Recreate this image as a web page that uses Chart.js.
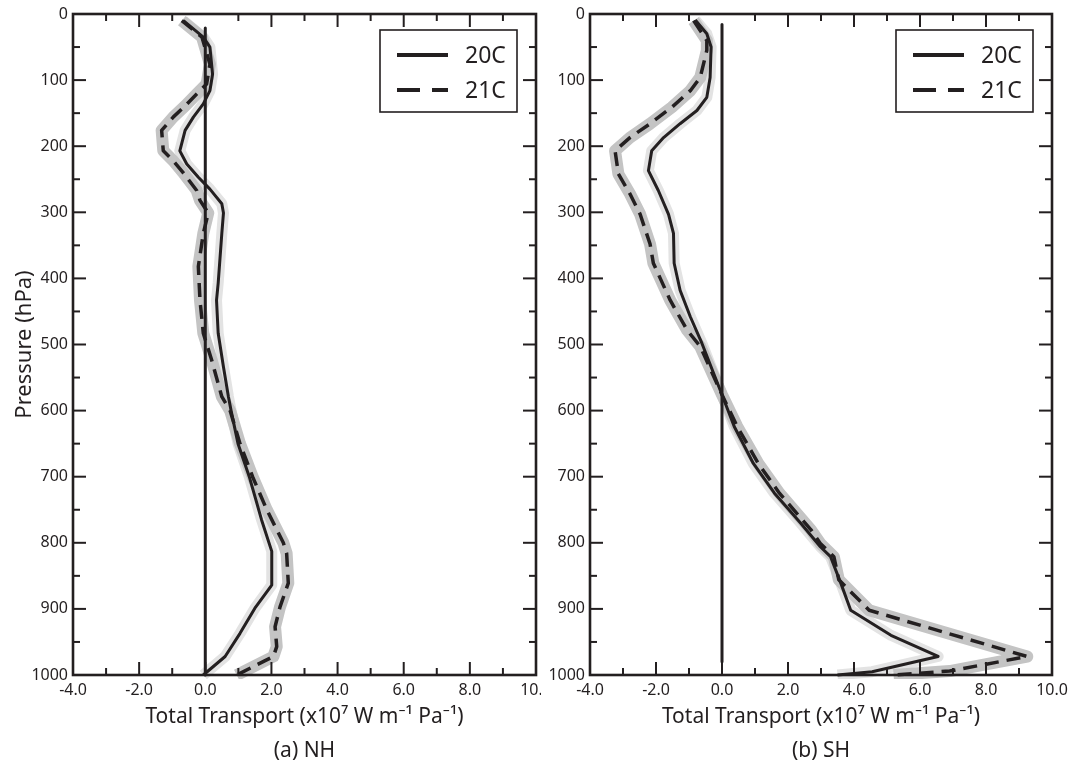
<!DOCTYPE html>
<html><head><meta charset="utf-8">
<script src="https://cdn.jsdelivr.net/npm/chart.js@4/dist/chart.umd.min.js"></script>
<style>
html,body{margin:0;padding:0;background:#fff;}
#wrap{position:relative;width:1069px;height:768px;overflow:hidden;background:#fff;}
.pane{position:absolute;top:0;height:768px;}
#pa{left:0;width:541px;}
#pb{left:545px;width:524px;}
</style></head><body>
<div id="wrap">
  <div class="pane" id="pa"><canvas id="ca" width="541" height="768"></canvas></div>
  <div class="pane" id="pb"><canvas id="cb" width="524" height="768"></canvas></div>
</div>
<script>
// ---------- data ----------
const seriesNames = ['20C', '21C'];
const xTitle = 'Total Transport (x10\u2077 W m\u207B\u00B9 Pa\u207B\u00B9)';
const yTitle = 'Pressure (hPa)';
const panelLabels = ['(a) NH', '(b) SH'];

const xMajor = [-4, -2, 0, 2, 4, 6, 8, 10];
const xTickLabels = ['-4.0', '-2.0', '0.0', '2.0', '4.0', '6.0', '8.0', '10.0'];
const xMinor = [-3, -1, 1, 3, 5, 7, 9];
const yMajor = [0, 100, 200, 300, 400, 500, 600, 700, 800, 900, 1000];
const yTickLabels = ['0', '100', '200', '300', '400', '500', '600', '700', '800', '900', '1000'];
const yMinor = [50, 150, 250, 350, 450, 550, 650, 750, 850, 950];

// NH
const nh20P = [10, 35, 50, 91, 116, 136, 156, 176, 207, 227, 247, 265, 287, 301, 332, 407, 433, 483, 534, 579, 600, 650, 700, 765, 813, 864, 899, 937, 972, 1000];
const nh20X = [-0.66, -0.06, 0.14, 0.22, 0.14, -0.06, -0.36, -0.61, -0.77, -0.56, -0.21, 0.14, 0.5, 0.55, 0.5, 0.39, 0.34, 0.39, 0.55, 0.70, 0.78, 0.99, 1.33, 1.7, 2.01, 2.01, 1.5, 1.05, 0.6, -0.06];
const nh21P = [10, 35, 76, 106, 121, 139, 156, 176, 207, 222, 240, 267, 282, 301, 332, 382, 433, 483, 523, 579, 600, 650, 700, 750, 800, 816, 861, 897, 927, 957, 972, 1000];
const nh21X = [-0.71, -0.1, 0.14, 0.04, -0.26, -0.61, -0.97, -1.32, -1.27, -0.97, -0.67, -0.26, -0.16, 0.09, -0.06, -0.21, -0.16, -0.06, 0.19, 0.5, 0.75, 1.05, 1.43, 1.86, 2.36, 2.46, 2.51, 2.26, 2.11, 2.16, 2.06, 0.95];
const nhZeroP = [21, 1000];

// SH
const sh20P = [9, 30, 50, 96, 126, 146, 166, 187, 207, 237, 267, 303, 332, 377, 418, 458, 498, 576, 624, 680, 725, 770, 806, 821, 861, 902, 940, 972, 995, 1000];
const sh20X = [-0.81, -0.46, -0.33, -0.36, -0.46, -0.76, -1.27, -1.77, -2.13, -2.23, -1.93, -1.62, -1.47, -1.45, -1.27, -0.96, -0.61, 0, 0.37, 0.95, 1.59, 2.38, 2.98, 3.29, 3.6, 3.9, 5.12, 6.55, 4.55, 3.5];
const sh21P = [10, 40, 55, 96, 116, 141, 166, 187, 207, 242, 272, 303, 348, 377, 433, 478, 503, 576, 624, 680, 725, 780, 801, 821, 856, 902, 937, 972, 994, 1000];
const sh21X = [-0.86, -0.46, -0.46, -0.66, -0.96, -1.52, -2.18, -2.79, -3.24, -3.14, -2.79, -2.48, -2.18, -2.08, -1.57, -1.06, -0.66, 0, 0.46, 1.1, 1.74, 2.69, 2.98, 3.39, 3.54, 4.46, 6.84, 9.25, 6.9, 5.2];
const shZeroP = [16, 980];

// ---------- styling ----------
const ink = '#231f20';
const family = '"Noto Sans", "DejaVu Sans", sans-serif';

function pts(P, X) { return P.map((p, i) => ({x: X[i], y: p})); }

function panelDatasets(p20, x20, p21, x21, zp) {
  return [
    {label: 'zero', data: zp.map(p => ({x: 0, y: p})), borderColor: ink, borderWidth: 3, order: 0},
    {label: seriesNames[0], data: pts(p20, x20), borderColor: ink, borderWidth: 3, order: 1},
    {label: seriesNames[1], data: pts(p21, x21), borderColor: ink, borderWidth: 3.5, borderDash: [14, 8], order: 1},
    {label: 'band21', data: pts(p21, x21), borderColor: '#c4c4c4', borderWidth: 12, order: 5},
    {label: 'band20', data: pts(p20, x20), borderColor: '#e3e3e3', borderWidth: 11, order: 6}
  ];
}

const framePlugin = {
  id: 'frameTicks',
  afterDatasetsDraw(chart) {
    const {ctx, chartArea: a, scales: {x, y}} = chart;
    ctx.save();
    ctx.strokeStyle = ink;
    ctx.lineWidth = 2;
    ctx.lineCap = 'butt';
    const xt = (vals, len, skipTopZero) => vals.forEach(v => {
      const px = x.getPixelForValue(v);
      ctx.beginPath(); ctx.moveTo(px, a.bottom); ctx.lineTo(px, a.bottom - len); ctx.stroke();
      if (!(skipTopZero && v === 0)) {
        ctx.beginPath(); ctx.moveTo(px, a.top); ctx.lineTo(px, a.top + len); ctx.stroke();
      }
    });
    const yt = (vals, len) => vals.forEach(v => {
      const py = y.getPixelForValue(v);
      ctx.beginPath(); ctx.moveTo(a.left, py); ctx.lineTo(a.left + len, py); ctx.stroke();
      ctx.beginPath(); ctx.moveTo(a.right, py); ctx.lineTo(a.right - len, py); ctx.stroke();
    });
    xt(xMajor, 13, true);
    xt(xMinor, 7, false);
    yt(yMajor, 13);
    yt(yMinor, 7);
    ctx.lineWidth = 2.6;
    ctx.strokeRect(a.left, a.top, a.right - a.left, a.bottom - a.top);
    ctx.restore();
  }
};

const legendPlugin = {
  id: 'boxLegend',
  afterDraw(chart) {
    const {ctx, chartArea: a} = chart;
    const w = 137, h = 82;
    const x0 = a.right - 19 - w, y0 = a.top + 16;
    ctx.save();
    ctx.fillStyle = '#fff';
    ctx.fillRect(x0, y0, w, h);
    ctx.strokeStyle = ink;
    ctx.lineWidth = 1.6;
    ctx.strokeRect(x0, y0, w, h);
    seriesNames.forEach((name, i) => {
      const yy = y0 + 25 + i * 35;
      ctx.beginPath();
      ctx.setLineDash(i ? [23, 12] : []);
      ctx.lineWidth = 4;
      ctx.moveTo(x0 + 17, yy); ctx.lineTo(x0 + 68, yy); ctx.stroke();
      ctx.setLineDash([]);
      ctx.fillStyle = ink;
      ctx.font = '23px ' + family;
      ctx.textBaseline = 'middle';
      ctx.textAlign = 'left';
      ctx.fillText(name, x0 + 85, yy + 1);
    });
    ctx.restore();
  }
};

function makeChart(canvasId, datasets, yAxisWidth, padRight, showYTitle, panelLabel) {
  return new Chart(document.getElementById(canvasId), {
    type: 'scatter',
    data: {datasets},
    options: {
      responsive: false,
      animation: false,
      events: [],
      showLine: true,
      clip: 4,
      elements: {
        point: {radius: 0},
        line: {tension: 0, borderJoinStyle: 'round', borderCapStyle: 'butt', fill: false}
      },
      layout: {padding: {left: 0, top: 14, right: padRight, bottom: 0}},
      plugins: {legend: {display: false}, tooltip: {enabled: false}},
      scales: {
        x: {
          type: 'linear', min: -4, max: 10,
          afterBuildTicks: s => { s.ticks = xMajor.map(v => ({value: v})); },
          afterFit: s => { s.height = 93; s.paddingLeft = 0; s.paddingRight = 0; },
          grid: {display: false, drawTicks: false},
          border: {display: false},
          ticks: {font: {family, size: 16}, color: ink, padding: 6, maxRotation: 0, autoSkip: false,
                  callback: (v, i) => xTickLabels[i]},
          title: {display: true, text: [xTitle, panelLabel], color: ink,
                  font: {family, size: 21, lineHeight: 1.62}, padding: {top: 0, bottom: 0}}
        },
        y: {
          type: 'linear', reverse: true, min: 0, max: 1000,
          afterBuildTicks: s => { s.ticks = yMajor.map(v => ({value: v})); },
          afterFit: s => { s.width = yAxisWidth; s.paddingTop = 0; s.paddingBottom = 0; },
          grid: {display: false, drawTicks: false},
          border: {display: false},
          ticks: {font: {family, size: 16}, color: ink, padding: 5, autoSkip: false,
                  callback: (v, i) => yTickLabels[i]},
          title: {display: showYTitle, text: yTitle, color: ink,
                  font: {family, size: 22}, padding: {top: 12, bottom: 0}}
        }
      }
    },
    plugins: [framePlugin, legendPlugin]
  });
}

makeChart('ca', panelDatasets(nh20P, nh20X, nh21P, nh21X, nhZeroP), 73, 5, true, panelLabels[0]);
makeChart('cb', panelDatasets(sh20P, sh20X, sh21P, sh21X, shZeroP), 45, 17, false, panelLabels[1]);
</script>
</body></html>
